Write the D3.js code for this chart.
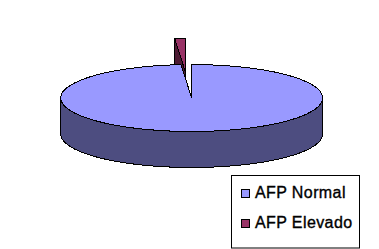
<!DOCTYPE html>
<html>
	<head>
		<title>AFP</title>
		<style>
			body, html {
				margin: 0;
				background: #fff;
			}
			svg { display: block; }
		</style>
	</head>
	<body>
		<svg id="svg" width="379" height="249"></svg>

		<script src="https://d3js.org/d3.v7.min.js"></script>
		<script>
			// Data
			const categories = ['AFP Normal', 'AFP Elevado']
			const values = [98.7, 1.3]
			const topColors = ['#9999ff', '#993366']
			const sideColors = ['#4d4d80', '#4d1a33']

			const rx = 131
			const ry = 33.5
			const depth = 36
			const cx = 191.7
			const cy = 98
			const explode = [-6.3, -26]

			const svg = d3.select('#svg')

			const arcData = d3.pie().sort(null)(values)
			const arcGen = d3.arc().innerRadius(0).outerRadius(rx)

			// Point on the ellipse for a pie angle (0 = top, clockwise)
			const px = a => rx * Math.sin(a)
			const py = a => -ry * Math.cos(a)

			// Outer wall between two angles, extruded downward
			function wallPath(a0, a1) {
				const steps = d3.range(0, 61).map(i => a0 + (a1 - a0) * i / 60)
				const upper = steps.map(a => [px(a), py(a)])
				const lower = steps.slice().reverse().map(a => [px(a), py(a) + depth])
				return d3.line()(upper.concat(lower)) + 'Z'
			}

			// Flat wall from the centre out to the rim at one angle
			function cutPath(a) {
				return d3.line()([[0, 0], [px(a), py(a)], [px(a), py(a) + depth], [0, depth]]) + 'Z'
			}

			function drawSlice(d, i, offset) {
				const g = svg.append('g')
					.attr('transform', `translate(${cx + offset[0]}, ${cy + offset[1]})`)
				const common = sel => sel
					.attr('stroke', '#000')
					.attr('stroke-width', 1)
					.attr('stroke-linejoin', 'miter')
					.attr('shape-rendering', 'crispEdges')

				if (i === 1) {
					common(g.append('path').attr('d', cutPath(d.startAngle)).attr('fill', sideColors[i]))
				} else {
					// Normal slice: visible wall is the front half, plus the cut at the start
					common(g.append('path').attr('d', cutPath(d.startAngle)).attr('fill', sideColors[i]))
					common(g.append('path').attr('d', wallPath(Math.PI / 2, 3 * Math.PI / 2)).attr('fill', sideColors[i]))
				}
				common(g.append('path')
					.attr('d', arcGen(d))
					.attr('transform', `scale(1, ${ry / rx})`)
					.attr('fill', topColors[i]))
				g.selectAll('path').attr('vector-effect', 'non-scaling-stroke')
			}

			// The small slice sits behind the big one
			drawSlice(arcData[1], 1, explode)
			drawSlice(arcData[0], 0, [0, 0])

			// Legend
			const legend = svg.append('g')
			legend.append('rect')
				.attr('x', 231.5).attr('y', 175.5)
				.attr('width', 128).attr('height', 72.5)
				.attr('fill', '#fff').attr('stroke', '#000')

			const legendY = d3.scalePoint().domain(categories).range([193.5, 223.5])

			legend.selectAll('rect.key')
				.data(categories)
				.enter()
				.append('rect')
				.attr('class', 'key')
				.attr('x', 241.5)
				.attr('y', d => legendY(d) - 4)
				.attr('width', 8).attr('height', 8)
				.attr('fill', (d, i) => topColors[i])
				.attr('stroke', '#000')

			legend.selectAll('text')
				.data(categories)
				.enter()
				.append('text')
				.attr('x', 255)
				.attr('y', d => legendY(d) + 4.5)
				.attr('font-family', '"Liberation Sans", Arial, sans-serif')
				.attr('font-size', 16)
				.attr('letter-spacing', 0.4)
				.attr('fill', '#000')
				.attr('stroke', '#000')
				.attr('stroke-width', 0.35)
				.text(d => d)
		</script>
	</body>
</html>
